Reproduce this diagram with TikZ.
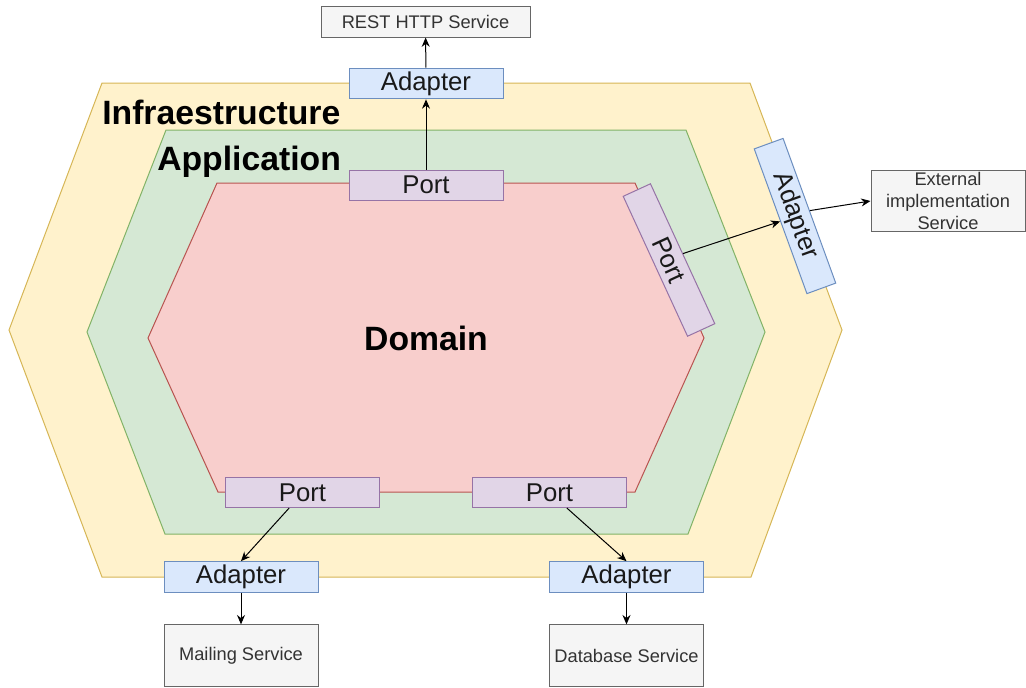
\documentclass[tikz,border=0pt]{standalone}
\usepackage{fontspec}
\setmainfont{Liberation Sans}
\usetikzlibrary{arrows.meta}
\definecolor{infraFill}{HTML}{FFF2CC}
\definecolor{infraLine}{HTML}{D6B656}
\definecolor{appFill}{HTML}{D5E8D4}
\definecolor{appLine}{HTML}{82B366}
\definecolor{domFill}{HTML}{F8CECC}
\definecolor{domLine}{HTML}{B85450}
\definecolor{portFill}{HTML}{E1D5E7}
\definecolor{portLine}{HTML}{9673A6}
\definecolor{adaptFill}{HTML}{DAE8FC}
\definecolor{adaptLine}{HTML}{6C8EBF}
\definecolor{svcFill}{HTML}{F5F5F5}
\definecolor{svcLine}{HTML}{666666}
\definecolor{svcText}{HTML}{333333}
\begin{document}
\begin{tikzpicture}[x=0.75pt,y=-0.75pt,
  layer/.style={line width=0.75pt},
  portbox/.style={draw=portLine, fill=portFill, line width=0.75pt,
    minimum width=115.5pt, minimum height=22.5pt, inner sep=0pt,
    font=\fontsize{19.3}{22}\selectfont, text=black!90},
  adaptbox/.style={draw=adaptLine, fill=adaptFill, line width=0.75pt,
    minimum width=115.5pt, minimum height=23pt, inner sep=0pt,
    font=\fontsize{19.3}{22}\selectfont, text=black!90},
  svcbox/.style={draw=svcLine, fill=svcFill, line width=0.75pt,
    minimum width=115.5pt, minimum height=46pt, inner sep=0pt, align=center,
    font=\fontsize{13.7}{16.5}\selectfont, text=svcText},
  layertitle/.style={inner sep=0pt, font=\fontsize{25.3}{30}\selectfont\bfseries, text=black},
  flow/.style={-{Stealth[length=7pt,width=6pt]}, line width=0.75pt, black}]
\useasboundingbox (0,0) rectangle (1026,687);

% concentric hexagonal layers
\draw[layer, draw=infraLine, fill=infraFill]
  (102,83) -- (750,83) -- (842,330) -- (751,577) -- (102,577) -- (9,330) -- cycle;
\draw[layer, draw=appLine, fill=appFill]
  (166,130) -- (686,130) -- (765,332) -- (688,534) -- (165,534) -- (87,332) -- cycle;
\draw[layer, draw=domLine, fill=domFill]
  (217,183) -- (635,183) -- (704,338) -- (635,492) -- (218,492) -- (148,338) -- cycle;

% layer titles
\node[layertitle, anchor=base west] (tinfra) at (102,124) {Infraestructure};
\node[layertitle, anchor=base west] (tapp) at (157,170) {Application};
\node[layertitle, anchor=base] (tdom) at (426,350) {Domain};

% ports
\node[portbox] (ptop) at (426,185) {Port};
\node[portbox] (pbl) at (302.5,492.5) {Port};
\node[portbox] (pbr) at (549.5,492.5) {Port};
\node[portbox, rotate=-65.3] (prot) at (669,260) {Port};

% adapters
\node[adaptbox] (atop) at (426,83.5) {Adapter};
\node[adaptbox] (abl) at (241,577) {Adapter};
\node[adaptbox] (abr) at (626.5,577) {Adapter};
\node[adaptbox, rotate=-70] (arot) at (795,216) {Adapter};

% external services
\node[svcbox, minimum width=156.75pt, minimum height=23.25pt] (rest) at (425.5,21.5) {REST HTTP Service};
\node[svcbox] (mail) at (241,655.5) {Mailing Service};
\node[svcbox] (db) at (626.5,655.5) {Database Service};
\node[svcbox] (ext) at (948,201) {External\\implementation\\Service};

% connections
\draw[flow] (ptop) -- (atop);
\draw[flow] (atop) -- (rest);
\draw[flow] (prot.north) -- (arot.south);
\draw[flow] (arot.north) -- (ext.west);
\draw[flow] ([xshift=-10pt]pbl.south) -- (abl.north);
\draw[flow] (abl) -- (mail);
\draw[flow] ([xshift=13pt]pbr.south) -- (abr.north);
\draw[flow] (abr) -- (db);
\end{tikzpicture}
\end{document}
